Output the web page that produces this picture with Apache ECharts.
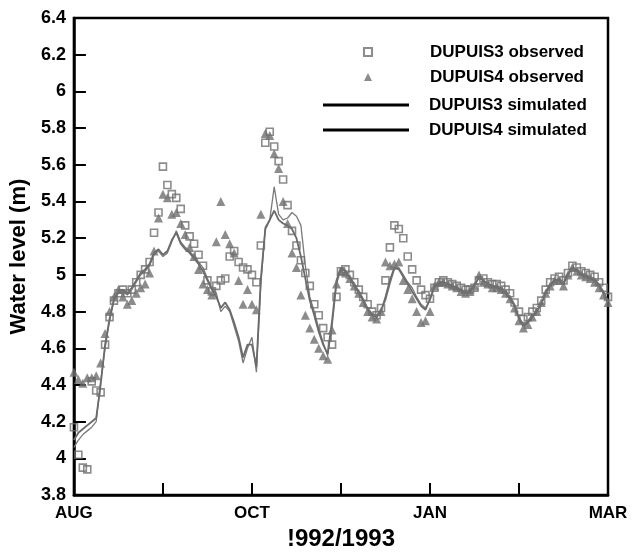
<!DOCTYPE html>
<html>
<head>
<meta charset="utf-8">
<script src="https://cdn.jsdelivr.net/npm/echarts@6/dist/echarts.min.js"></script>
<style>
html,body{margin:0;padding:0;background:#fff;}
#chart{width:632px;height:556px;}
</style>
</head>
<body>
<div id="chart"></div>
<script>
// Sampling step of the series (days from start of AUG)
const STEP = 1.5;
const xTickLabels = ['AUG', '', 'OCT', '', 'JAN', '', 'MAR'];
const seriesNames = ['DUPUIS3 observed', 'DUPUIS4 observed', 'DUPUIS3 simulated', 'DUPUIS4 simulated'];

const dupuis3Observed = [
  4.17, 4.02, 3.95, 3.94, 4.42, 4.37, 4.36, 4.62, 4.77, 4.86,
  4.90, 4.92, 4.90, 4.92, 4.96, 5.00, 5.03, 5.07, 5.23, 5.34,
  5.59, 5.49, 5.44, 5.42, 5.36, 5.27, 5.21, 5.17, 5.11, 5.05,
  4.97, 4.91, 4.94, 4.97, 4.98, 5.10, 5.13, 5.07, 5.04, 5.03,
  5.00, 4.96, 5.16, 5.72, 5.78, 5.70, 5.62, 5.52, 5.38, 5.24,
  5.16, 5.08, 5.01, 4.94, 4.84, 4.78, 4.71, 4.66, 4.62, 4.88,
  5.02, 5.03, 5.00, 4.96, 4.92, 4.88, 4.84, 4.80, 4.78, 4.82,
  4.97, 5.15, 5.27, 5.25, 5.20, 5.10, 5.03, 4.97, 4.92, 4.89,
  4.87, 4.93, 4.96, 4.97, 4.96, 4.95, 4.94, 4.93, 4.92, 4.92,
  4.93, 4.97, 4.98, 4.96, 4.95, 4.95, 4.94, 4.92, 4.90, 4.85,
  4.80, 4.76, 4.77, 4.80, 4.82, 4.86, 4.92, 4.96, 4.98, 4.99,
  4.97, 5.01, 5.05, 5.04, 5.02, 5.01, 5.00, 4.99, 4.96, 4.93,
  4.88
];

const dupuis4Observed = [
  4.47, 4.43, 4.41, 4.44, 4.44, 4.45, 4.52, 4.68, 4.80, 4.88,
  4.92, 4.88, 4.84, 4.86, 4.90, 4.93, 4.95, 5.01, 5.13, 5.31,
  5.44, 5.42, 5.33, 5.34, 5.28, 5.22, 5.15, 5.10, 5.03, 4.95,
  4.92, 4.89, 5.18, 5.40, 5.22, 5.17, 5.12, 4.97, 4.84, 4.92,
  4.84, 4.81, 5.33, 5.77, 5.76, 5.66, 5.58, 5.40, 5.28, 5.12,
  5.04, 4.89, 4.78, 4.71, 4.65, 4.60, 4.56, 4.54, 4.70, 4.95,
  5.02, 5.01, 4.98, 4.94, 4.90, 4.85, 4.80, 4.77, 4.76, 4.80,
  5.07, 5.05, 5.06, 5.07, 4.97, 4.92, 4.87, 4.80, 4.74, 4.75,
  4.80, 4.94, 4.96, 4.96, 4.95, 4.94, 4.93, 4.91, 4.90, 4.91,
  4.94, 5.00, 4.96, 4.95, 4.93, 4.93, 4.92, 4.90, 4.87, 4.82,
  4.75, 4.71, 4.73, 4.77, 4.80, 4.85, 4.90, 4.94, 4.97, 4.97,
  4.94, 5.00, 5.04, 5.02, 5.00, 4.99, 4.98, 4.96, 4.93, 4.89,
  4.85
];

const dupuis3Simulated = [
  4.06, 4.10, 4.13, 4.15, 4.17, 4.20, 4.42, 4.60, 4.75, 4.86,
  4.90, 4.91, 4.89, 4.92, 4.96, 5.00, 5.02, 5.05, 5.11, 5.13,
  5.10, 5.12, 5.18, 5.24, 5.18, 5.15, 5.13, 5.10, 5.07, 5.04,
  4.98, 4.93, 4.90, 4.80, 4.83, 4.80, 4.72, 4.64, 4.52, 4.60,
  4.66, 4.47, 4.95, 5.26, 5.30, 5.48, 5.33, 5.30, 5.31, 5.34,
  5.32, 5.27, 5.05, 4.88, 4.80, 4.71, 4.63, 4.56, 4.72, 4.95,
  5.03, 5.02, 4.99, 4.95, 4.91, 4.87, 4.82, 4.79, 4.78, 4.81,
  4.86, 4.95, 5.03, 5.04, 5.00, 4.96, 4.93, 4.88, 4.84, 4.82,
  4.86, 4.93, 4.95, 4.96, 4.95, 4.94, 4.93, 4.92, 4.91, 4.92,
  4.95, 4.98, 4.97, 4.95, 4.94, 4.94, 4.93, 4.91, 4.88, 4.84,
  4.77, 4.73, 4.75, 4.78, 4.81, 4.84, 4.91, 4.95, 4.97, 4.98,
  4.96, 5.01, 5.04, 5.03, 5.01, 5.00, 4.99, 4.98, 4.95, 4.91,
  4.86
];

const dupuis4Simulated = [
  4.10, 4.14, 4.16, 4.18, 4.20, 4.22, 4.40, 4.62, 4.76, 4.87,
  4.91, 4.92, 4.90, 4.93, 4.97, 5.01, 5.03, 5.06, 5.12, 5.14,
  5.11, 5.13, 5.19, 5.23, 5.17, 5.14, 5.12, 5.09, 5.06, 5.02,
  4.97, 4.92, 4.88, 4.82, 4.85, 4.81, 4.74, 4.66, 4.55, 4.62,
  4.62, 4.50, 4.98, 5.25, 5.30, 5.35, 5.30, 5.28, 5.27, 5.25,
  5.20, 5.10, 4.98, 4.86, 4.78, 4.69, 4.62, 4.57, 4.75, 4.97,
  5.04, 5.02, 4.98, 4.94, 4.90, 4.86, 4.81, 4.78, 4.77, 4.80,
  4.88, 4.97, 5.04, 5.03, 4.99, 4.95, 4.91, 4.87, 4.83, 4.81,
  4.87, 4.94, 4.96, 4.96, 4.95, 4.94, 4.93, 4.91, 4.90, 4.91,
  4.94, 4.99, 4.97, 4.95, 4.94, 4.93, 4.92, 4.90, 4.87, 4.83,
  4.76, 4.72, 4.74, 4.77, 4.80, 4.84, 4.90, 4.94, 4.97, 4.97,
  4.95, 5.00, 5.04, 5.02, 5.00, 4.99, 4.98, 4.97, 4.94, 4.90,
  4.85
];

function toPairs(arr) { return arr.map((v, i) => [i * STEP, v]); }

const FONT = '"Liberation Sans", Arial, Helvetica, sans-serif';
const GRAY = '#6f6f6f';

const chart = echarts.init(document.getElementById('chart'), null, {renderer: 'canvas'});
chart.setOption({
  animation: false,
  backgroundColor: '#fff',
  textStyle: {fontFamily: FONT},
  grid: {
    left: 73, right: 24, top: 18, bottom: 57,
    show: true, borderColor: '#000', borderWidth: 2.5, backgroundColor: 'transparent'
  },
  legend: [
    {
      data: [seriesNames[0], seriesNames[1]],
      orient: 'vertical', left: 363, top: 42, padding: 0,
      itemWidth: 8, itemHeight: 8, itemGap: 5,
      textStyle: {fontFamily: FONT, fontSize: 17, fontWeight: 'bold', color: '#000', lineHeight: 20, padding: [0, 0, 0, 53]}
    },
    {
      data: [
        {name: seriesNames[2], icon: 'rect', itemStyle: {color: '#000', borderWidth: 0}},
        {name: seriesNames[3], icon: 'rect', itemStyle: {color: '#000', borderWidth: 0}}
      ],
      orient: 'vertical', left: 323, top: 95, padding: 0,
      itemWidth: 86, itemHeight: 3, itemGap: 5,
      textStyle: {fontFamily: FONT, fontSize: 17, fontWeight: 'bold', color: '#000', lineHeight: 20, padding: [0, 0, 0, 15]}
    }
  ],
  xAxis: {
    type: 'value', min: 0, max: 180, interval: 30,
    name: '!992/1993', nameLocation: 'middle', nameGap: 30,
    nameTextStyle: {fontFamily: FONT, fontSize: 24, fontWeight: 'bold', color: '#000'},
    axisLine: {lineStyle: {color: '#000', width: 2.5}},
    axisTick: {inside: true, length: 12, lineStyle: {color: '#000', width: 2}},
    axisLabel: {
      margin: 10, fontFamily: FONT, fontSize: 17, fontWeight: 'bold', color: '#000',
      showMinLabel: true, showMaxLabel: true, hideOverlap: false,
      formatter: v => xTickLabels[Math.round(v / 30)] || ''
    },
    splitLine: {show: false}
  },
  yAxis: {
    type: 'value', min: 3.8, max: 6.4, interval: 0.2,
    name: 'Water level (m)', nameLocation: 'middle', nameGap: 37, nameRotate: 90,
    nameTextStyle: {fontFamily: FONT, fontSize: 22, fontWeight: 'bold', color: '#000'},
    axisLine: {show: true, lineStyle: {color: '#000', width: 2.5}},
    axisTick: {show: true, inside: true, length: 12, lineStyle: {color: '#000', width: 2}},
    axisLabel: {
      margin: 8, fontFamily: FONT, fontSize: 18, fontWeight: 'bold', color: '#000',
      showMinLabel: true, showMaxLabel: true,
      formatter: v => String(Math.round(v * 10) / 10)
    },
    splitLine: {show: false}
  },
  series: [
    {
      name: seriesNames[2], type: 'line', data: toPairs(dupuis3Simulated),
      showSymbol: false, symbol: 'none', z: 2,
      lineStyle: {color: '#7a7a7a', width: 1.3}, itemStyle: {color: '#7a7a7a'}
    },
    {
      name: seriesNames[3], type: 'line', data: toPairs(dupuis4Simulated),
      showSymbol: false, symbol: 'none', z: 2,
      lineStyle: {color: '#6a6a6a', width: 1.8}, itemStyle: {color: '#6a6a6a'}
    },
    {
      name: seriesNames[0], type: 'scatter', data: toPairs(dupuis3Observed),
      symbol: 'rect', symbolSize: 7, z: 3,
      itemStyle: {color: 'rgba(255,255,255,0)', borderColor: GRAY, borderWidth: 1.6}
    },
    {
      name: seriesNames[1], type: 'scatter', data: toPairs(dupuis4Observed),
      symbol: 'triangle', symbolSize: 9, z: 3,
      itemStyle: {color: GRAY}
    }
  ]
});
</script>
</body>
</html>
